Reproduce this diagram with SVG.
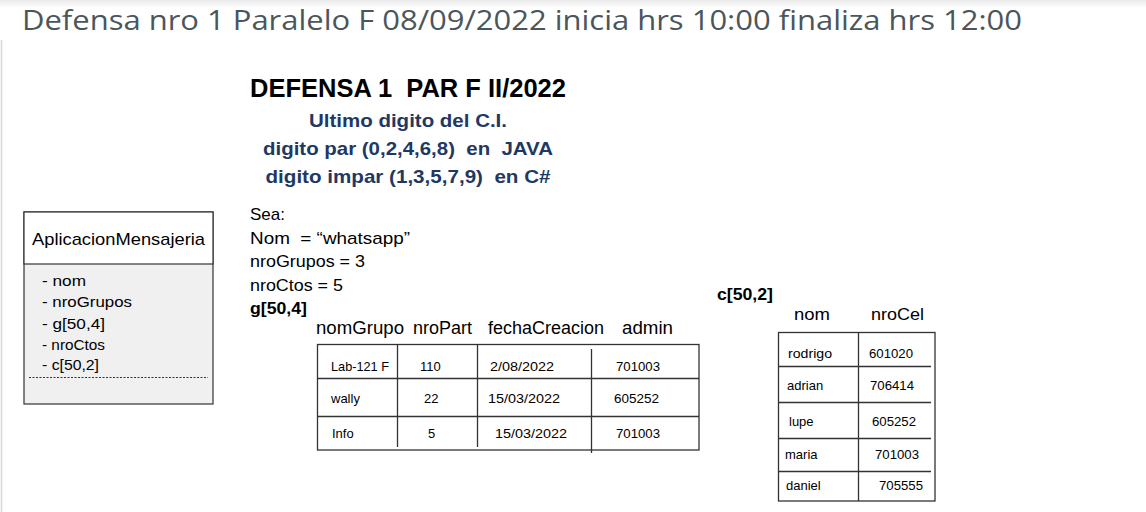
<svg xmlns="http://www.w3.org/2000/svg" width="1146" height="512" viewBox="0 0 1146 512">
<defs>
<linearGradient id="topg" x1="0" y1="0" x2="0" y2="1">
<stop offset="0" stop-color="#e9e9e9"/><stop offset="1" stop-color="#ffffff"/>
</linearGradient>
</defs>
<style>
.t{font-family:"Liberation Sans","Open Sans",sans-serif;fill:#000}
.b{font-weight:bold}
.blue{fill:#1f3864;font-weight:bold}
.cell{font-size:13px}
.pre{white-space:pre}
.ln{stroke:#333;stroke-width:1.3;fill:none}
</style>
<rect x="0" y="0" width="1146" height="512" fill="#fff"/>
<rect x="0" y="0" width="1146" height="8" fill="url(#topg)"/>
<line x1="1.5" y1="40" x2="1.5" y2="512" stroke="#d8d8d8" stroke-width="1.5"/>
<text x="22" y="30" font-family="'Open Sans','Liberation Sans',sans-serif" font-size="28" fill="#4b565c" textLength="1000" lengthAdjust="spacingAndGlyphs">Defensa nro 1 Paralelo F 08/09/2022 inicia hrs 10:00 finaliza hrs 12:00</text>

<g id="heading">
<text class="t b pre" xml:space="preserve" x="250" y="97" font-size="25" textLength="316" lengthAdjust="spacingAndGlyphs">DEFENSA 1  PAR F II/2022</text>
<text class="t blue" x="408" y="127" font-size="18.5" text-anchor="middle" textLength="198" lengthAdjust="spacingAndGlyphs">Ultimo digito del C.I.</text>
<text class="t blue pre" xml:space="preserve" x="408" y="155" font-size="18.5" text-anchor="middle" textLength="290" lengthAdjust="spacingAndGlyphs">digito par (0,2,4,6,8)  en  JAVA</text>
<text class="t blue pre" xml:space="preserve" x="408" y="183" font-size="18.5" text-anchor="middle" textLength="285" lengthAdjust="spacingAndGlyphs">digito impar (1,3,5,7,9)  en C#</text>
</g>

<g id="AplicacionMensajeria">
<rect x="24" y="212" width="189" height="192" fill="#f0f0f0" stroke="#333" stroke-width="1.2"/>
<rect x="24" y="212" width="189" height="52" fill="#fff" stroke="#333" stroke-width="1.2"/>
<text class="t" x="118.5" y="245" font-size="17" text-anchor="middle" textLength="173" lengthAdjust="spacingAndGlyphs">AplicacionMensajeria</text>
<text class="t" x="42" y="286" font-size="15" textLength="44" lengthAdjust="spacingAndGlyphs">- nom</text>
<text class="t" x="42" y="307" font-size="15" textLength="90" lengthAdjust="spacingAndGlyphs">- nroGrupos</text>
<text class="t" x="42" y="329" font-size="15" textLength="63" lengthAdjust="spacingAndGlyphs">- g[50,4]</text>
<text class="t" x="42" y="350" font-size="15" textLength="63" lengthAdjust="spacingAndGlyphs">- nroCtos</text>
<text class="t" x="42" y="370" font-size="15" textLength="57" lengthAdjust="spacingAndGlyphs">- c[50,2]</text>
<line x1="29" y1="377.5" x2="208" y2="377.5" stroke="#333" stroke-width="1" stroke-dasharray="2,1.5"/>
</g>

<g id="sea">
<text class="t" x="250" y="220" font-size="17" textLength="35" lengthAdjust="spacingAndGlyphs">Sea:</text>
<text class="t pre" x="250" y="244" font-size="17" xml:space="preserve" textLength="160" lengthAdjust="spacingAndGlyphs">Nom  = “whatsapp”</text>
<text class="t" x="250" y="267" font-size="17" textLength="115" lengthAdjust="spacingAndGlyphs">nroGrupos = 3</text>
<text class="t" x="250" y="291" font-size="17" textLength="93" lengthAdjust="spacingAndGlyphs">nroCtos = 5</text>
<text class="t b" x="250" y="314" font-size="16" textLength="57" lengthAdjust="spacingAndGlyphs">g[50,4]</text>
</g>

<g id="tablaGrupos">
<text class="t" x="316" y="334" font-size="17.5" textLength="88" lengthAdjust="spacingAndGlyphs">nomGrupo</text>
<text class="t" x="413" y="334" font-size="17.5" textLength="59" lengthAdjust="spacingAndGlyphs">nroPart</text>
<text class="t" x="488" y="334" font-size="17.5" textLength="116" lengthAdjust="spacingAndGlyphs">fechaCreacion</text>
<text class="t" x="622" y="334" font-size="17.5" textLength="51" lengthAdjust="spacingAndGlyphs">admin</text>
<rect class="ln" x="317.5" y="344.5" width="381.5" height="105.5"/>
<line class="ln" x1="317.5" y1="378.5" x2="699" y2="378.5"/>
<line class="ln" x1="317.5" y1="416.5" x2="699" y2="416.5"/>
<line class="ln" x1="397.5" y1="344.5" x2="397.5" y2="447"/>
<line class="ln" x1="477.5" y1="344.5" x2="477.5" y2="447"/>
<line class="ln" x1="591.5" y1="349" x2="591.5" y2="453"/>
<text class="t cell" x="331" y="371" textLength="58" lengthAdjust="spacingAndGlyphs">Lab-121 F</text>
<text class="t cell" x="420" y="371">110</text>
<text class="t cell" x="490" y="371" textLength="64" lengthAdjust="spacingAndGlyphs">2/08/2022</text>
<text class="t cell" x="616" y="371" textLength="44" lengthAdjust="spacingAndGlyphs">701003</text>
<text class="t cell" x="331" y="403">wally</text>
<text class="t cell" x="424" y="403">22</text>
<text class="t cell" x="488" y="403" textLength="72" lengthAdjust="spacingAndGlyphs">15/03/2022</text>
<text class="t cell" x="614" y="403" textLength="45" lengthAdjust="spacingAndGlyphs">605252</text>
<text class="t cell" x="332" y="438">Info</text>
<text class="t cell" x="428" y="438">5</text>
<text class="t cell" x="495" y="438" textLength="72" lengthAdjust="spacingAndGlyphs">15/03/2022</text>
<text class="t cell" x="616" y="438" textLength="44" lengthAdjust="spacingAndGlyphs">701003</text>
</g>

<g id="tablaContactos">
<text class="t b" x="717" y="300" font-size="16" textLength="56" lengthAdjust="spacingAndGlyphs">c[50,2]</text>
<text class="t" x="794" y="320" font-size="17" textLength="36" lengthAdjust="spacingAndGlyphs">nom</text>
<text class="t" x="871" y="320" font-size="17" textLength="53" lengthAdjust="spacingAndGlyphs">nroCel</text>
<rect class="ln" x="778.5" y="332.5" width="156.5" height="168.5"/>
<line class="ln" x1="858.5" y1="332.5" x2="858.5" y2="501"/>
<line class="ln" x1="778.5" y1="366.5" x2="931" y2="366.5"/>
<line class="ln" x1="778.5" y1="402.5" x2="931" y2="402.5"/>
<line class="ln" x1="778.5" y1="438.5" x2="931" y2="438.5"/>
<line class="ln" x1="778.5" y1="471.5" x2="931" y2="471.5"/>
<text class="t cell" x="788" y="358" textLength="44" lengthAdjust="spacingAndGlyphs">rodrigo</text>
<text class="t cell" x="869" y="358" textLength="44" lengthAdjust="spacingAndGlyphs">601020</text>
<text class="t cell" x="787" y="390">adrian</text>
<text class="t cell" x="870" y="390" textLength="44" lengthAdjust="spacingAndGlyphs">706414</text>
<text class="t cell" x="789" y="426">lupe</text>
<text class="t cell" x="872" y="426" textLength="44" lengthAdjust="spacingAndGlyphs">605252</text>
<text class="t cell" x="785" y="459">maria</text>
<text class="t cell" x="875" y="459" textLength="44" lengthAdjust="spacingAndGlyphs">701003</text>
<text class="t cell" x="786" y="490">daniel</text>
<text class="t cell" x="879" y="490" textLength="44" lengthAdjust="spacingAndGlyphs">705555</text>
</g>
</svg>
